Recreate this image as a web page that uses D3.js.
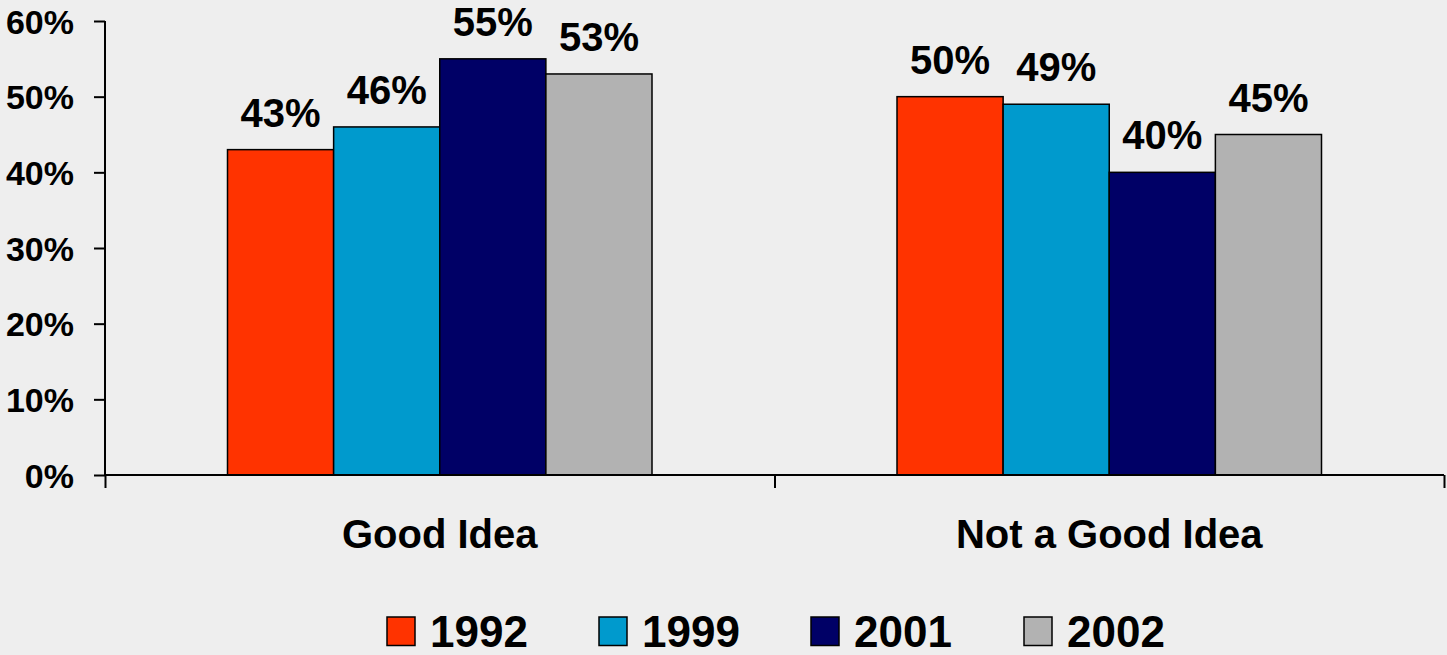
<!DOCTYPE html>
<html>
<head>
<meta charset="utf-8">
<script src="https://cdn.jsdelivr.net/npm/d3@7"></script>
<style>
html,body{margin:0;padding:0;background:#eeeeee;}
svg{display:block;font-family:"Liberation Sans",Arial,sans-serif;font-weight:bold;}
</style>
</head>
<body>
<svg id="chart" width="1447" height="655"></svg>
<script>
const categories = ["Good Idea", "Not a Good Idea"];
const seriesNames = ["1992", "1999", "2001", "2002"];
const values1992 = [0.43, 0.50];
const values1999 = [0.46, 0.49];
const values2001 = [0.55, 0.40];
const values2002 = [0.53, 0.45];
const yTicks = [0, 0.1, 0.2, 0.3, 0.4, 0.5, 0.6];
const colors = ["#ff3300", "#009acd", "#000066", "#b2b2b2"];

const seriesValues = [values1992, values1999, values2001, values2002];

const svg = d3.select("#chart");
const mLeft = 105, mRight = 1444, mTop = 21, mBottom = 475;

const x0 = d3.scaleBand().domain(categories).range([mLeft, mRight]).paddingInner(0).paddingOuter(0);
const groupW = 424.5;
const x1 = d3.scaleBand().domain(seriesNames).range([0, groupW]).padding(0);
const y = d3.scaleLinear().domain([0, 0.6]).range([mBottom, mTop]);

// bars
const groups = svg.append("g").selectAll("g").data(categories).join("g")
  .attr("transform", c => `translate(${x0(c) + (x0.bandwidth() - groupW) / 2},0)`);

seriesNames.forEach((s, si) => {
  groups.append("rect")
    .attr("x", x1(s))
    .attr("y", (c, ci) => y(seriesValues[si][ci]))
    .attr("width", x1.bandwidth())
    .attr("height", (c, ci) => y(0) - y(seriesValues[si][ci]))
    .attr("fill", colors[si])
    .attr("stroke", "#000")
    .attr("stroke-width", 1.5);
  groups.append("text")
    .attr("x", x1(s) + x1.bandwidth() / 2)
    .attr("y", (c, ci) => y(seriesValues[si][ci]) - 23)
    .attr("text-anchor", "middle")
    .attr("font-size", 40)
    .attr("fill", "#000")
    .text((c, ci) => d3.format(".0%")(seriesValues[si][ci]));
});

// y axis
const yAxis = d3.axisLeft(y).tickValues(yTicks).tickFormat(d3.format(".0%")).tickSize(11).tickPadding(20);
const gy = svg.append("g").attr("transform", `translate(${mLeft},0)`).call(yAxis);
gy.select(".domain").attr("d", `M0,${mTop}V${mBottom}`).attr("stroke", "#000").attr("stroke-width", 2);
gy.selectAll(".tick line").attr("stroke", "#000").attr("stroke-width", 2);
gy.selectAll(".tick text").attr("font-size", 34).attr("font-family", "Liberation Sans, Arial, sans-serif").attr("font-weight", "bold").attr("fill", "#000").attr("dy", "0.36em");

// x axis
const xb = d3.scaleLinear().domain([0, categories.length]).range([mLeft, mRight]);
const xAxis = d3.axisBottom(xb).tickValues(d3.range(categories.length + 1)).tickSize(13).tickFormat("");
const gx = svg.append("g").attr("transform", `translate(0,${mBottom})`).call(xAxis);
gx.select(".domain").attr("d", `M${mLeft},0H${mRight}`).attr("stroke", "#000").attr("stroke-width", 2);
gx.selectAll(".tick line").attr("stroke", "#000").attr("stroke-width", 2);

// category labels
svg.append("g").selectAll("text").data(categories).join("text")
  .attr("x", c => x0(c) + x0.bandwidth() / 2)
  .attr("y", 548)
  .attr("text-anchor", "middle")
  .attr("font-size", 40)
  .attr("fill", "#000")
  .text(c => c);

// legend
const legendX = [387, 599, 811, 1024];
const lg = svg.append("g").selectAll("g").data(seriesNames).join("g")
  .attr("transform", (s, i) => `translate(${legendX[i]},617)`);
lg.append("rect").attr("width", 28).attr("height", 28.5)
  .attr("fill", (s, i) => colors[i]).attr("stroke", "#000").attr("stroke-width", 1.5);
lg.append("text").attr("x", 43).attr("y", 30).attr("font-size", 44).attr("fill", "#000").text(s => s);
</script>
</body>
</html>
